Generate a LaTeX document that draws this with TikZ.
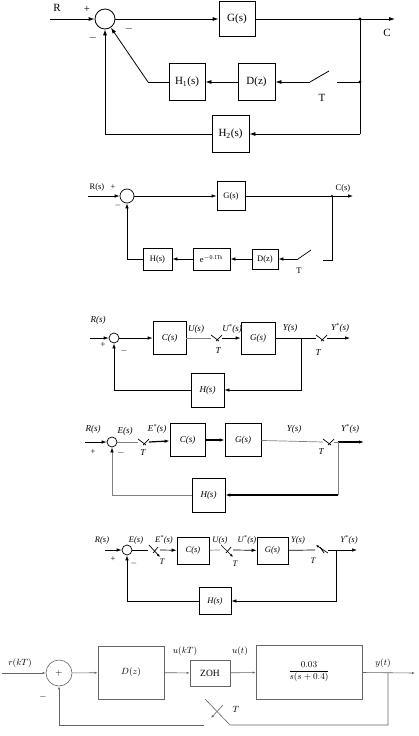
\documentclass[tikz,border=0pt]{standalone}
\usepackage{fontspec}
\setmainfont{Liberation Serif}
\usetikzlibrary{arrows.meta}

\tikzset{
  blk/.style={draw,inner sep=0pt},
  sumc/.style={draw,circle,inner sep=0pt},
  lbl/.style={inner sep=0pt},
}
% small sampler mark, left end at #1
\newcommand{\smpx}[1]{\draw (#1) ++(0,-3) -- ++(8,6) ++(-3,0) -- ++(6,-6);}

\begin{document}
\begin{tikzpicture}[x=1pt,y=-1pt,>=Latex,line width=0.8pt]
  \useasboundingbox (0,0) rectangle (418,736);
  \fill[white] (0,0) rectangle (418,736);
  % 1
  \begin{scope}[font=\fontsize{11}{13}\selectfont,>={Latex[length=6pt,width=4pt]}]
  \node[sumc,minimum size=20pt] (s1) at (105,19) {};
  \node[blk,minimum width=36pt,minimum height=35pt] (g1) at (237,19) {G(s)};
  \node[blk,minimum width=37pt,minimum height=37pt] (d1) at (256.5,82) {D(z)};
  \node[blk,minimum width=36pt,minimum height=37pt] (h1) at (187,82) {H\textsubscript{1}(s)};
  \node[blk,minimum width=37pt,minimum height=37pt] (h2) at (230.5,134) {H\textsubscript{2}(s)};
  \coordinate (r1) at (50,19);
  \coordinate (j1a) at (360,19); \coordinate (c1) at (395,19);
  \coordinate (j1b) at (360,82); \coordinate (j1c) at (360,134);
  \coordinate (k1) at (337,82); \coordinate (p1) at (310,82);
  \coordinate (b1) at (148,82);
  \draw[->] (r1) -- (s1);
  \draw[->] (s1) -- (g1);
  \draw[->] (g1) -- (c1);
  \draw (j1a) -- (j1c);
  \fill (j1a) circle (1.6); \fill (j1b) circle (1.6);
  \draw (j1b) -- (k1);
  \draw (p1) -- (329,71);
  \draw[->] (p1) -- (d1);
  \draw[->] (d1) -- (h1);
  \draw (h1) -- (b1);
  \draw[->] (b1) -- (s1);
  \draw[->] (j1c) -- (h2);
  \draw[->] (h2) -| (s1);
  \node[lbl] at (57,8) {R};
  \node[lbl] at (87,9) {+};
  \node[lbl] at (93,38) {$-$};
  \node[lbl] at (129,29) {$-$};
  \node[lbl] at (387,33) {C};
  \node[lbl] at (322,98) {T};
  \end{scope}
  % 2
  \begin{scope}[font=\fontsize{8.5}{10}\selectfont,line width=0.7pt,>={Latex[length=5pt,width=3.5pt]}]
  \node[sumc,minimum size=14pt] (s2) at (127,196) {};
  \node[blk,minimum width=28pt,minimum height=29pt] (g2) at (231,196) {G(s)};
  \node[blk,minimum width=26pt,minimum height=20pt] (d2) at (265,259) {D(z)};
  \node[blk,minimum width=37pt,minimum height=22pt] (e2) at (211.5,259) {e\textsuperscript{$-$0.1Ts}};
  \node[blk,minimum width=29pt,minimum height=22pt] (hh2) at (157.5,259) {H(s)};
  \coordinate (r2) at (88,196);
  \coordinate (j2) at (332,196); \coordinate (c2) at (353,196);
  \coordinate (j2b) at (332,260); \coordinate (k2) at (323,260);
  \coordinate (p2) at (298,259);
  \draw[->] (r2) -- (s2);
  \draw[->] (s2) -- (g2);
  \draw[->] (g2) -- (c2);
  \fill (j2) circle (1.2);
  \draw (j2) -- (j2b) -- (k2);
  \draw (p2) -- (311,250);
  \draw[->] (p2) -- (d2);
  \draw[->] (d2) -- (e2);
  \draw[->] (e2) -- (hh2);
  \draw[->] (hh2) -| (s2);
  \node[lbl] at (97,187) {R(s)};
  \node[lbl] at (113,187) {+};
  \node[lbl] at (118,205) {$-$};
  \node[lbl] at (343,188) {C(s)};
  \node[lbl] at (299,271) {T};
  \end{scope}
  % 3
  \begin{scope}[font=\fontsize{9}{11}\selectfont\itshape,line width=0.7pt,>={Latex[length=5pt,width=3.5pt]}]
  \node[sumc,minimum size=10pt] (s3) at (114,338) {};
  \node[blk,minimum width=33pt,minimum height=33pt] (c3) at (169.5,338) {C(s)};
  \node[blk,minimum width=34pt,minimum height=32pt] (g3) at (258,338) {G(s)};
  \node[blk,minimum width=33pt,minimum height=34pt] (h3) at (207.5,390) {H(s)};
  \coordinate (r3) at (90,338);
  \coordinate (a3) at (211,338); \coordinate (b3) at (222,338);
  \coordinate (j3) at (301,338);
  \coordinate (a3b) at (316,338); \coordinate (b3b) at (327,338);
  \coordinate (y3) at (350,338);
  \draw[->] (r3) -- (s3);
  \draw[->] (s3) -- (c3);
  \draw[gray] (c3) -- (a3);
  \smpx{a3}
  \draw[->] (b3) -- (g3);
  \draw (g3) -- (a3b);
  \smpx{a3b}
  \draw[->] (b3b) -- (y3);
  \draw[->] (j3) |- (h3);
  \draw[->] (h3) -| (s3);
  \node[lbl] at (98,320) {R(s)};
  \node[lbl] at (103,345) {+};
  \node[lbl] at (124,351) {$-$};
  \node[lbl] at (196,329) {U(s)};
  \node[lbl] at (232,329) {U\textsuperscript{*}(s)};
  \node[lbl] at (218,351) {T};
  \node[lbl] at (290,328) {Y(s)};
  \node[lbl] at (318,353) {T};
  \node[lbl] at (340,328) {Y\textsuperscript{*}(s)};
  \end{scope}
  % 4
  \begin{scope}[font=\fontsize{9}{11}\selectfont\itshape,line width=0.7pt,>={Latex[length=5pt,width=3.5pt]}]
  \node[sumc,minimum size=10pt] (s4) at (112,442) {};
  \node[blk,minimum width=35pt,minimum height=33pt] (c4) at (187.5,440) {C(s)};
  \node[blk,minimum width=36pt,minimum height=33pt] (g4) at (243,440) {G(s)};
  \node[blk,minimum width=33pt,minimum height=34pt] (h4) at (208.5,495) {H(s)};
  \coordinate (r4) at (85,442);
  \coordinate (a4) at (138,442); \coordinate (b4) at (149,442);
  \coordinate (a4b) at (323,442); \coordinate (b4b) at (334,442);
  \coordinate (j4) at (338,442); \coordinate (y4) at (364,442);
  \coordinate (k4) at (338,495);
  \draw[->] (r4) -- (s4);
  \draw[gray] (s4) -- (a4);
  \smpx{a4}
  \draw[->,line width=1.2pt] (b4) -- (c4);
  \draw[->,line width=1.2pt] (c4) -- (g4);
  \draw[gray] (g4) -- (a4b);
  \smpx{a4b}
  \draw[gray] (b4b) -- (j4);
  \draw[->,line width=1.2pt] (j4) -- (y4);
  \draw[gray] (j4) -- (k4);
  \draw[->,line width=1.6pt] (k4) -- (h4);
  \draw[gray,-{Latex[length=5pt,width=3.5pt,color=black]}] (h4) -| (s4);
  \node[lbl] at (93,429) {R(s)};
  \node[lbl] at (93,452) {+};
  \node[lbl] at (121,453) {$-$};
  \node[lbl] at (125,431) {E(s)};
  \node[lbl] at (157,429) {E\textsuperscript{*}(s)};
  \node[lbl] at (143,453) {T};
  \node[lbl] at (294,429) {Y(s)};
  \node[lbl] at (321,452) {T};
  \node[lbl] at (350,429) {Y\textsuperscript{*}(s)};
  \end{scope}
  % 5
  \begin{scope}[font=\fontsize{8.5}{10}\selectfont\itshape,line width=0.7pt,>={Latex[length=5pt,width=3.5pt]}]
  \node[sumc,minimum size=10pt] (s5) at (127,550) {};
  \node[blk,minimum width=32pt,minimum height=27pt] (c5) at (193,550.5) {C(s)};
  \node[blk,minimum width=31pt,minimum height=27pt] (g5) at (272.5,550.5) {G(s)};
  \node[blk,minimum width=32pt,minimum height=27pt] (h5) at (215,601) {H(s)};
  \coordinate (r5) at (105,550);
  \coordinate (a5) at (148,550); \coordinate (b5) at (160,550);
  \coordinate (a5b) at (220,550); \coordinate (b5b) at (233,550);
  \coordinate (a5c) at (315,550); \coordinate (b5c) at (328,550);
  \coordinate (j5) at (336,550); \coordinate (y5) at (357,550);
  \draw[->] (r5) -- (s5);
  \draw (s5) -- (a5);
  \draw[-{Latex[length=3pt,width=2.5pt]}] (149,545) -- (160,557);
  \draw (153,553) -- (158,547);
  \draw[->] (b5) -- (c5);
  \draw[gray] (c5) -- (a5b);
  \draw[-{Latex[length=3pt,width=2.5pt]}] (221,545) -- (233,557);
  \draw (226,553) -- (231,547);
  \draw[->] (b5b) -- (g5);
  \draw (g5) -- (a5c);
  \draw[-{Latex[length=3pt,width=2.5pt]}] (328,553) -- (316,545);
  \draw (320,547) -- (324,553);
  \draw (b5c) -- (j5);
  \draw[->] (j5) -- (y5);
  \draw[->] (j5) |- (h5);
  \draw[->] (h5) -| (s5);
  \node[lbl] at (102,540) {R(s)};
  \node[lbl] at (113,559) {+};
  \node[lbl] at (134,563) {$-$};
  \node[lbl] at (136,540) {E(s)};
  \node[lbl] at (164,540) {E\textsuperscript{*}(s)};
  \node[lbl] at (162,562) {T};
  \node[lbl] at (220,540) {U(s)};
  \node[lbl] at (247,540) {U\textsuperscript{*}(s)};
  \node[lbl] at (235,564) {T};
  \node[lbl] at (298,540) {Y(s)};
  \node[lbl] at (313,561) {T};
  \node[lbl] at (349,540) {Y\textsuperscript{*}(s)};
  \end{scope}
  % 6
  \begin{scope}[font=\fontsize{9.5}{11}\selectfont,line width=0.6pt,draw=black!60,>={Latex[length=3pt,width=2.2pt]}]
  \node[sumc,minimum size=26pt] (s6) at (59,673) {$+$};
  \node[blk,minimum width=66pt,minimum height=53pt] (d6) at (131,672.5) {$D(z)$};
  \node[blk,minimum width=40pt,minimum height=26pt] (zoh) at (210,673) {$\mathrm{ZOH}$};
  \node[blk,minimum width=106pt,minimum height=54pt] (p6) at (309,672) {$\displaystyle\frac{0.03}{s(s+0.4)}$};
  \coordinate (r6) at (2,673);
  \coordinate (y6) at (415,673); \coordinate (j6) at (388,673);
  \coordinate (k6) at (388,725); \coordinate (q6) at (230,725);
  \coordinate (m6) at (204,725);
  \draw[->] (r6) -- (s6);
  \draw[->] (s6) -- (d6);
  \draw[->] (d6) -- (zoh);
  \draw[->] (zoh) -- (p6);
  \draw[->] (p6) -- (y6);
  \draw (j6) -- (k6) -- (q6) -- (205,699);
  \draw[->] (223,705) -- (211,718);
  \draw[->] (m6) -| (s6);
  \node[lbl] at (20,663) {$r(kT)$};
  \node[lbl] at (43,697) {$-$};
  \node[lbl] at (185,651) {$u(kT)$};
  \node[lbl] at (240,651) {$u(t)$};
  \node[lbl] at (383,663) {$y(t)$};
  \node[lbl] at (236,709) {$T$};
  \end{scope}
\end{tikzpicture}
\end{document}
